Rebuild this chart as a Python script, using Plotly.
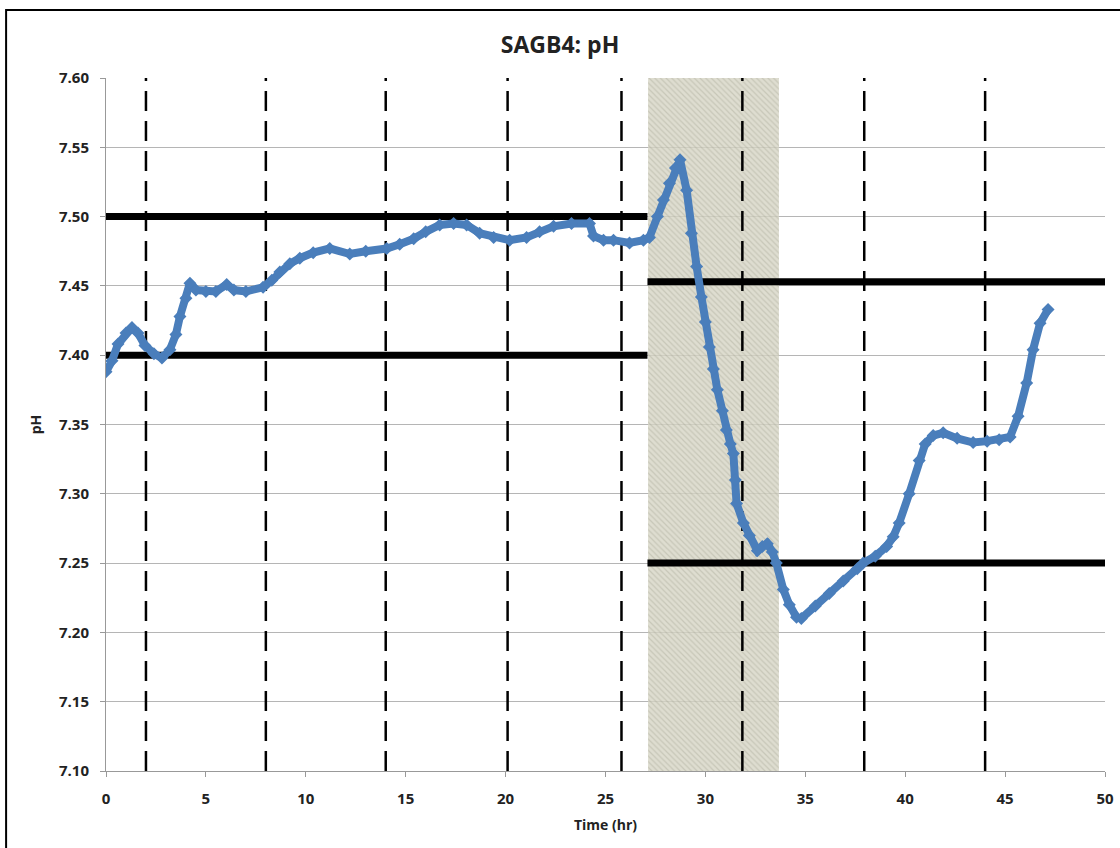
import plotly.graph_objects as go

# Data
time_hr = [0.0, 0.3, 0.6, 1.0, 1.3, 1.6, 1.95, 2.4, 2.8, 3.2, 3.5, 3.7, 4.0, 4.2, 4.5, 5.0, 5.5, 6.04, 6.4, 7.0,
           7.86, 8.3, 8.7, 9.2, 9.7, 10.37, 11.2, 12.2, 13.0, 14.05, 14.7, 15.4, 16.0, 16.7, 17.4, 18.05, 18.7,
           19.4, 20.2, 21.05, 21.7, 22.4, 23.3, 24.2, 24.4, 24.9, 25.4, 26.2, 26.9, 27.2, 27.6, 27.9, 28.2, 28.5,
           28.73, 29.06, 29.3, 29.56, 29.8, 30.0, 30.2, 30.4, 30.6, 30.85, 31.05, 31.25, 31.4, 31.5, 31.56, 31.9,
           32.2, 32.6, 32.85, 33.1, 33.35, 33.55, 33.9, 34.2, 34.56, 34.8, 35.5, 36.2, 36.9, 37.6, 37.9, 38.5,
           39.07, 39.4, 39.7, 40.2, 40.7, 41.0, 41.4, 41.9, 42.6, 43.4, 44.1, 44.7, 45.25, 45.65, 46.08, 46.4,
           46.75, 47.15]
ph = [7.388, 7.396, 7.408, 7.416, 7.420, 7.416, 7.407, 7.401, 7.398, 7.404, 7.415, 7.428, 7.441, 7.452, 7.447,
      7.446, 7.446, 7.451, 7.447, 7.446, 7.449, 7.454, 7.460, 7.466, 7.470, 7.474, 7.477, 7.473, 7.475, 7.477,
      7.480, 7.484, 7.489, 7.494, 7.495, 7.494, 7.488, 7.485, 7.483, 7.485, 7.489, 7.493, 7.495, 7.495, 7.486,
      7.483, 7.483, 7.481, 7.483, 7.485, 7.500, 7.512, 7.524, 7.535, 7.541, 7.519, 7.488, 7.464, 7.442, 7.424,
      7.406, 7.390, 7.375, 7.360, 7.346, 7.336, 7.329, 7.310, 7.293, 7.279, 7.270, 7.259, 7.262, 7.264, 7.258,
      7.250, 7.231, 7.220, 7.211, 7.210, 7.219, 7.228, 7.237, 7.246, 7.250, 7.255, 7.262, 7.269, 7.279, 7.300,
      7.324, 7.336, 7.342, 7.344, 7.340, 7.337, 7.338, 7.339, 7.341, 7.356, 7.380, 7.404, 7.423, 7.433]

# Target range limits per phase
phase_start = [0.0, 27.1]
phase_end = [27.1, 50.0]
lower_limit = [7.40, 7.25]
upper_limit = [7.50, 7.453]

# Event markers (dashed) and shaded interval
event_times = [2.0, 8.0, 14.0, 20.1, 25.8, 31.85, 37.95, 44.0]
shade_start, shade_end = 27.13, 33.68

y_min, y_max = 7.10, 7.60
x_ticks = [0, 5, 10, 15, 20, 25, 30, 35, 40, 45, 50]
y_ticks = [7.10, 7.15, 7.20, 7.25, 7.30, 7.35, 7.40, 7.45, 7.50, 7.55, 7.60]

FONT = "Open Sans"
fig = go.Figure()

# Shaded (hatched) interval
fig.add_trace(go.Scatter(
    x=[shade_start, shade_end, shade_end, shade_start, shade_start],
    y=[y_min, y_min, y_max, y_max, y_min],
    mode="lines", fill="toself", line=dict(width=0),
    fillcolor="rgba(210,208,190,0.8)",
    fillpattern=dict(shape="\\", fgcolor="rgba(145,143,125,0.6)", bgcolor="rgba(214,212,196,0.8)",
                     size=4, solidity=0.3),
    hoverinfo="skip", showlegend=False))

# Dashed vertical lines
for t in event_times:
    fig.add_trace(go.Scatter(x=[t, t], y=[y_min, y_max], mode="lines",
                             line=dict(color="black", width=2.5, dash="20px,10px"),
                             hoverinfo="skip", showlegend=False))

# Limit lines
for x0, x1, lo, hi in zip(phase_start, phase_end, lower_limit, upper_limit):
    for v in (lo, hi):
        fig.add_trace(go.Scatter(x=[x0, x1], y=[v, v], mode="lines",
                                 line=dict(color="black", width=7),
                                 hoverinfo="skip", showlegend=False))

# pH series
fig.add_trace(go.Scatter(x=time_hr, y=ph, mode="lines+markers",
                         line=dict(color="#4a7ebb", width=8),
                         marker=dict(symbol="diamond", size=10, color="#4a7ebb"),
                         showlegend=False))

# Outer frame
fig.add_shape(type="rect", xref="paper", yref="paper", x0=-0.1, x1=1.2, y0=-0.3, y1=1.098,
              line=dict(color="black", width=2), fillcolor="rgba(0,0,0,0)", layer="below")

fig.update_layout(
    width=1120, height=848,
    margin=dict(l=106, r=15, t=78, b=77, autoexpand=False),
    paper_bgcolor="white", plot_bgcolor="white",
    title=dict(text="<b>SAGB4: pH</b>", x=0.5, xanchor="center", y=1 - 45 / 848, yanchor="middle",
               yref="container", font=dict(family=FONT, size=23, color="#222")),
    font=dict(family=FONT, color="#222"),
)
fig.update_xaxes(range=[0, 50], tickvals=x_ticks, ticktext=[f"<b>{v}</b>" for v in x_ticks],
                 automargin=False,
                 showgrid=False, zeroline=False, showline=True, linecolor="#999", linewidth=1,
                 ticks="outside", ticklen=5, tickcolor="#999", ticklabelstandoff=9,
                 tickfont=dict(family=FONT, size=15, color="#222"),
                 title=dict(text="<b>Time (hr)</b>", font=dict(family=FONT, size=14, color="#222"), standoff=13))
fig.update_yaxes(range=[y_min, y_max], tickvals=y_ticks, ticktext=[f"<b>{v:.2f}</b>" for v in y_ticks],
                 automargin=False,
                 showgrid=True, gridcolor="#b5b5b5", gridwidth=1, zeroline=False,
                 showline=True, linecolor="#999", linewidth=1,
                 ticks="outside", ticklen=5, tickcolor="#999", ticklabelstandoff=8,
                 tickfont=dict(family=FONT, size=15, color="#222"),
                 title=dict(text="<b>pH</b>", font=dict(family=FONT, size=14, color="#222"), standoff=14))

fig.write_html("out.html")
